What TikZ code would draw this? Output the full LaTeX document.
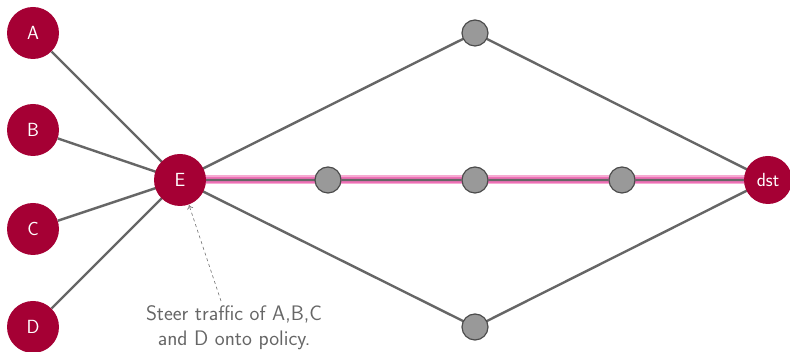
\documentclass[tikz,border=0pt]{standalone}
\usepackage{fontspec}
\usetikzlibrary{arrows.meta,backgrounds}
\definecolor{crim}{HTML}{A50034}
\definecolor{lnk}{HTML}{666666}
\definecolor{hop}{HTML}{999999}
\definecolor{hlout}{HTML}{F6AAD2}
\definecolor{hlin}{HTML}{EE70B6}
\begin{document}
\begin{tikzpicture}[x=1pt,y=1pt,
  host/.style={circle,fill=crim,text=white,minimum size=52pt,inner sep=0pt,font=\sffamily\fontsize{19}{22}\selectfont},
  hopnode/.style={circle,fill=hop,draw=black!70,line width=1.2pt,minimum size=26pt,inner sep=0pt},
  link/.style={draw=lnk,line width=2.4pt},
  hlink/.style={draw=hlout,line width=9pt},
  hlinkin/.style={draw=hlin,line width=6pt}]
\useasboundingbox (0,0) rectangle (790,352);
\node[host] (A) at (33,319) {A};
\node[host] (B) at (33,222) {B};
\node[host] (C) at (33,123) {C};
\node[host] (D) at (33,25) {D};
\node[host] (E) at (180,172) {E};
\node[host,minimum size=48pt] (dst) at (768,172) {dst};
\node[hopnode] (T) at (475,319) {};
\node[hopnode] (M1) at (328,172) {};
\node[hopnode] (M2) at (475,172) {};
\node[hopnode] (M3) at (622,172) {};
\node[hopnode] (Bt) at (475,25) {};
\begin{pgfonlayer}{background}
\path[hlink] (E.center) -- (dst.center);
\path[hlinkin] (E.center) -- (dst.center);
\path[link] (A) -- (E.center) (B) -- (E.center) (C) -- (E.center) (D) -- (E.center)
  (E.center) -- (T.center) (T.center) -- (dst.center) (E.center) -- (Bt.center) (Bt.center) -- (dst.center)
  (E.center) -- (M1.center) (M1) -- (M2) (M2) -- (M3) (M3) -- (dst.center);
\end{pgfonlayer}
\node[text=black!60,align=center,font=\sffamily\fontsize{21}{25}\selectfont] (note) at (234,24) {Steer traffic of A,B,C\\and D onto policy.};
\coordinate (tip) at (189,147);
\draw[black!60,dashed,line width=0.6pt,-{To[length=4pt,width=6pt]}] (221,51) -- (tip);
\end{tikzpicture}
\end{document}
